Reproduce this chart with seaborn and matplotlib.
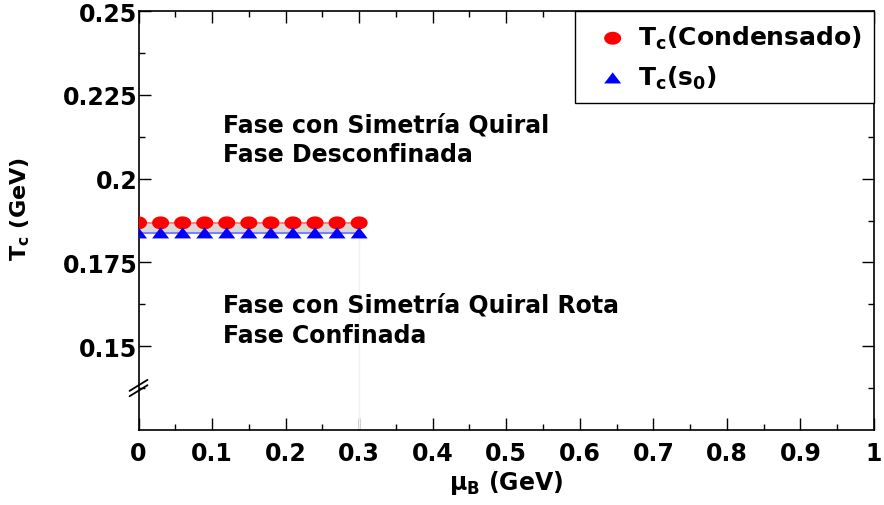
import numpy as np
import pandas as pd
import matplotlib
matplotlib.use("Agg")
import matplotlib.pyplot as plt
from matplotlib.path import Path
from matplotlib.ticker import MultipleLocator, FixedLocator
import seaborn as sns

# Critical temperature versus baryon chemical potential
mu_b = [0.00, 0.03, 0.06, 0.09, 0.12, 0.15, 0.18, 0.21, 0.24, 0.27, 0.30]
tc_condensado = [0.1868, 0.1868, 0.1868, 0.1868, 0.1868, 0.1868,
                 0.1868, 0.1868, 0.1868, 0.1868, 0.1868]
tc_s0 = [0.1838, 0.1838, 0.1838, 0.1838, 0.1838, 0.1838,
         0.1838, 0.1838, 0.1838, 0.1838, 0.1838]

x_ticks = [0, 0.1, 0.2, 0.3, 0.4, 0.5, 0.6, 0.7, 0.8, 0.9, 1.0]
x_tick_labels = ["0", "0.1", "0.2", "0.3", "0.4", "0.5", "0.6", "0.7", "0.8", "0.9", "1"]
y_ticks = [0.15, 0.175, 0.2, 0.225, 0.25]
y_tick_labels = ["0.15", "0.175", "0.2", "0.225", "0.25"]

df = pd.DataFrame({"mu": mu_b, "cond": tc_condensado, "s0": tc_s0})

sns.set_style("ticks")
plt.rcParams["font.family"] = ["DejaVu Sans"]
plt.rcParams["mathtext.fontset"] = "dejavusans"
plt.rcParams["mathtext.default"] = "bf"
for key in ("text.color", "axes.labelcolor", "xtick.color", "ytick.color",
            "xtick.labelcolor", "ytick.labelcolor", "axes.edgecolor"):
    plt.rcParams[key] = "black"

fig = plt.figure(figsize=(8.84, 5.06), dpi=100)
ax = fig.add_axes([0.1567, 0.1488, 0.8320, 0.8269])

# wide markers
t = np.linspace(0, 2 * np.pi, 64)
ellipse = Path(np.column_stack([np.cos(t), 0.76 * np.sin(t)]), closed=True)
triangle = Path([(-1, -0.65), (1, -0.65), (0, 0.65), (-1, -0.65)],
                [Path.MOVETO, Path.LINETO, Path.LINETO, Path.CLOSEPOLY])

# band between the two estimates
ax.fill_between(df["mu"], df["s0"], df["cond"], color="#d9d9d9", lw=0, zorder=1)
ax.vlines(df["mu"].iloc[-1], 0.125, df["s0"].iloc[-1], color="#f0f0f0", lw=1, zorder=1)

sns.lineplot(data=df, x="mu", y="cond", color="#ff8080", lw=1.5, ax=ax, legend=False, zorder=2)
sns.lineplot(data=df, x="mu", y="s0", color="#8080ff", lw=1.5, ax=ax, legend=False, zorder=2)
sns.scatterplot(data=df, x="mu", y="cond", marker=ellipse, s=150, color="red",
                edgecolor="none", ax=ax, label="T$_c$(Condensado)", zorder=3)
sns.scatterplot(data=df, x="mu", y="s0", marker=triangle, s=150, color="blue",
                edgecolor="none", ax=ax, label="T$_c$(s$_0$)", zorder=3)

ax.set_xlim(0, 1)
ax.set_ylim(0.125, 0.25)

ax.set_xticks(x_ticks)
ax.set_xticklabels(x_tick_labels)
ax.set_yticks(y_ticks)
ax.set_yticklabels(y_tick_labels)
ax.xaxis.set_minor_locator(MultipleLocator(0.05))
ax.yaxis.set_minor_locator(FixedLocator([0.1375, 0.1625, 0.1875, 0.2125, 0.2375]))

ax.tick_params(which="both", direction="in", top=True, right=True, color="black", width=1)
ax.tick_params(which="major", length=8.5)
ax.tick_params(which="minor", length=4.3)
ax.tick_params(axis="x", which="major", pad=8)
ax.tick_params(axis="y", which="major", pad=1)
for lab in ax.get_xticklabels() + ax.get_yticklabels():
    lab.set_fontsize(17)
    lab.set_fontweight("bold")
    lab.set_color("black")

for sp in ax.spines.values():
    sp.set_color("black")
    sp.set_linewidth(1.2)

ax.set_xlabel("μ$_B$ (GeV)", fontsize=17, fontweight="bold", labelpad=2, color="black")
ax.set_ylabel("T$_c$ (GeV)", fontsize=16, fontweight="bold", color="black")
ax.yaxis.set_label_coords(-0.145, 0.53)

# phase labels
txt = dict(fontsize=17, fontweight="bold", color="black", va="baseline", ha="left")
ax.text(0.1147, 0.2141, "Fase con Simetría Quiral", **txt)
ax.text(0.1147, 0.2053, "Fase Desconfinada", **txt)
ax.text(0.1147, 0.1602, "Fase con Simetría Quiral Rota", **txt)
ax.text(0.1147, 0.1512, "Fase Confinada", **txt)

# axis break mark
tr = ax.get_yaxis_transform()
for dy in (-0.0008, 0.0008):
    ax.plot([-0.0122, 0.0122], [0.1358 + dy, 0.1391 + dy], color="black", lw=1.3,
            transform=tr, clip_on=False, zorder=5)

leg = ax.legend(loc="upper right", bbox_to_anchor=(1, 1), borderaxespad=0,
                frameon=True, fancybox=False, framealpha=1, edgecolor="black",
                prop={"size": 18, "weight": "bold"}, borderpad=0.5,
                handlelength=2.0, handletextpad=0.0, labelspacing=0.5)
leg.get_frame().set_linewidth(1.0)
leg.set_zorder(10)
for tx in leg.get_texts():
    tx.set_color("black")

fig.savefig("out.png", dpi=100)
